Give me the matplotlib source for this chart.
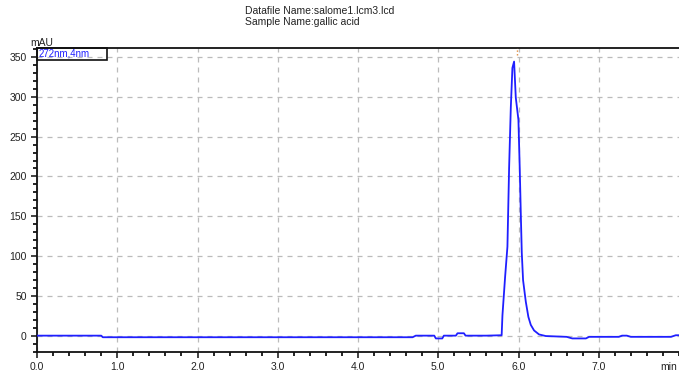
import matplotlib.pyplot as plt
from matplotlib.patches import Rectangle
from matplotlib.ticker import MultipleLocator

plt.rcParams['font.family'] = ['Liberation Sans', 'DejaVu Sans']

# chromatogram trace, 272nm
time_min = [0.00, 0.80, 0.82, 2.00, 3.00, 4.00, 4.68, 4.72, 4.95, 4.97, 5.05, 5.07,
            5.22, 5.24, 5.32, 5.34, 5.60, 5.79, 5.80, 5.833, 5.862, 5.883, 5.904,
            5.924, 5.945, 5.966, 5.999, 6.016, 6.029, 6.041, 6.057, 6.091, 6.123,
            6.153, 6.194, 6.256, 6.34, 6.60, 6.67, 6.84, 6.88, 7.25, 7.29, 7.35,
            7.40, 7.90, 7.96, 8.00]
absorbance = [0.5, 0.5, -1.5, -1.5, -1.5, -1.5, -1.5, 0.5, 0.5, -3.0, -3.0, 0.5,
              0.5, 3.5, 3.5, 0.5, 0.5, 1.0, 26, 74, 112, 211, 286,
              336, 344, 299, 271, 208, 152, 104, 70, 43, 24,
              14, 7, 2, 0, -1.0, -3.0, -3.0, -1.0, -1.0, 0.5, 0.5,
              -1.0, -1.0, 1.0, 1.0]

peak_time = 5.98
title_lines = ["Datafile Name:salome1.lcm3.lcd", "Sample Name:gallic acid"]
channel_label = "272nm,4nm"

fig = plt.figure(figsize=(6.79, 3.79), dpi=100)
ax = fig.add_axes([37 / 679, 1 - 352 / 379, 642 / 679, 304 / 379])

ax.plot(time_min, absorbance, color='#1f1fff', lw=1.3, zorder=3)
ax.plot([peak_time, peak_time], [352, 362], color='#e08a3a', lw=1.0, ls=':', zorder=4)

ax.set_xlim(0, 8.0)
ax.set_ylim(-20, 361)
ax.xaxis.set_major_locator(MultipleLocator(1.0))
ax.xaxis.set_minor_locator(MultipleLocator(0.2))
ax.yaxis.set_major_locator(MultipleLocator(50))
ax.yaxis.set_minor_locator(MultipleLocator(10))
ax.set_xticks([0, 1, 2, 3, 4, 5, 6, 7])
ax.set_xticklabels(['0.0', '1.0', '2.0', '3.0', '4.0', '5.0', '6.0', '7.0'])

ax.grid(True, which='major', color='#bbbbbb', ls=(0, (4, 4)), lw=0.9)
ax.tick_params(which='major', direction='out', length=4, width=1.2, labelsize=7.5,
               colors='#222222')
ax.tick_params(which='minor', direction='out', length=3, width=1.2)

for side in ['left', 'bottom', 'top']:
    ax.spines[side].set_linewidth(1.3)
    ax.spines[side].set_color('#111111')
ax.spines['right'].set_visible(False)

# channel label box
ax.add_patch(Rectangle((0, 1 - 12 / 304), 70 / 642, 12 / 304, transform=ax.transAxes,
                       fill=False, ec='#111111', lw=1.2, zorder=5, clip_on=False))
ax.text(2 / 642, 1 - 6 / 304, channel_label, transform=ax.transAxes, color='#1f1fff',
        fontsize=7, va='center', ha='left', zorder=6)

fig.text(30 / 679, 1 - 43 / 379, "mAU", fontsize=7.5, color='#222222', va='center')
fig.text(677 / 679, 1 - 367 / 379, "min", fontsize=7.5, color='#222222', va='center',
         ha='right')
fig.text(245 / 679, 1 - 11 / 379, title_lines[0], fontsize=7.5, color='#222222', va='center')
fig.text(245 / 679, 1 - 22 / 379, title_lines[1], fontsize=7.5, color='#222222', va='center')

fig.savefig('out.png', dpi=100)
